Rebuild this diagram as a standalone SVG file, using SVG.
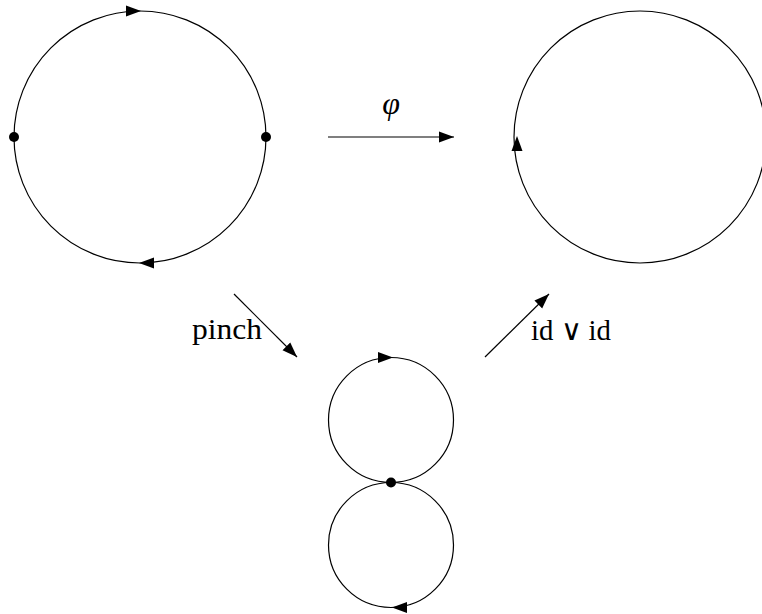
<svg xmlns="http://www.w3.org/2000/svg" xmlns:xlink="http://www.w3.org/1999/xlink" width="762" height="614" viewBox="0 0 762 614">
<style>
.c{fill:none;stroke:#000;stroke-width:1.2}
.e{fill:none;stroke:#000;stroke-width:1.2}
.t{font-family:"Liberation Serif",serif;font-size:29px;fill:#000}
.phi{font-family:"Liberation Serif",serif;font-size:32px;font-style:italic;fill:#000}
</style>
<defs>
<path id="ah" d="M0,0 L-15,-5.5 L-15,5.5 Z" fill="#000"/>
<marker id="m" viewBox="-15 -6 16 12" refX="0" refY="0" markerWidth="16" markerHeight="12" markerUnits="userSpaceOnUse" orient="auto"><path d="M0,0 L-15,-5.5 L-15,5.5 Z" fill="#000"/></marker>
</defs>
<rect width="762" height="614" fill="#fff"/>
<g id="circle-left">
<circle class="c" cx="140" cy="137" r="126"/>
<use xlink:href="#ah" transform="translate(141,11)"/>
<use xlink:href="#ah" transform="translate(139,263) rotate(180)"/>
<circle cx="14" cy="137" r="5"/>
<circle cx="266" cy="137" r="5"/>
</g>
<g id="circle-right">
<circle class="c" cx="640" cy="137" r="126"/>
<use xlink:href="#ah" transform="translate(517,136) rotate(-90)"/>
</g>
<g id="figure-eight">
<circle class="c" cx="391" cy="420" r="62.5"/>
<circle class="c" cx="391" cy="545" r="62.5"/>
<use xlink:href="#ah" transform="translate(393,357.5)"/>
<use xlink:href="#ah" transform="translate(392,607.5) rotate(180)"/>
<circle cx="391" cy="482.5" r="5"/>
</g>
<g id="connectors">
<line class="e" x1="328" y1="137" x2="454" y2="137" marker-end="url(#m)"/>
<line class="e" x1="234" y1="294" x2="297" y2="357" marker-end="url(#m)"/>
<line class="e" x1="485" y1="357" x2="549" y2="294" marker-end="url(#m)"/>
</g>
<g id="labels">
<text class="phi" x="391" y="114" text-anchor="middle">φ</text>
<text class="t" x="192" y="339" textLength="70" lengthAdjust="spacingAndGlyphs">pinch</text>
<text class="t" x="531" y="340" textLength="80" lengthAdjust="spacingAndGlyphs">id ∨ id</text>
</g>
</svg>
